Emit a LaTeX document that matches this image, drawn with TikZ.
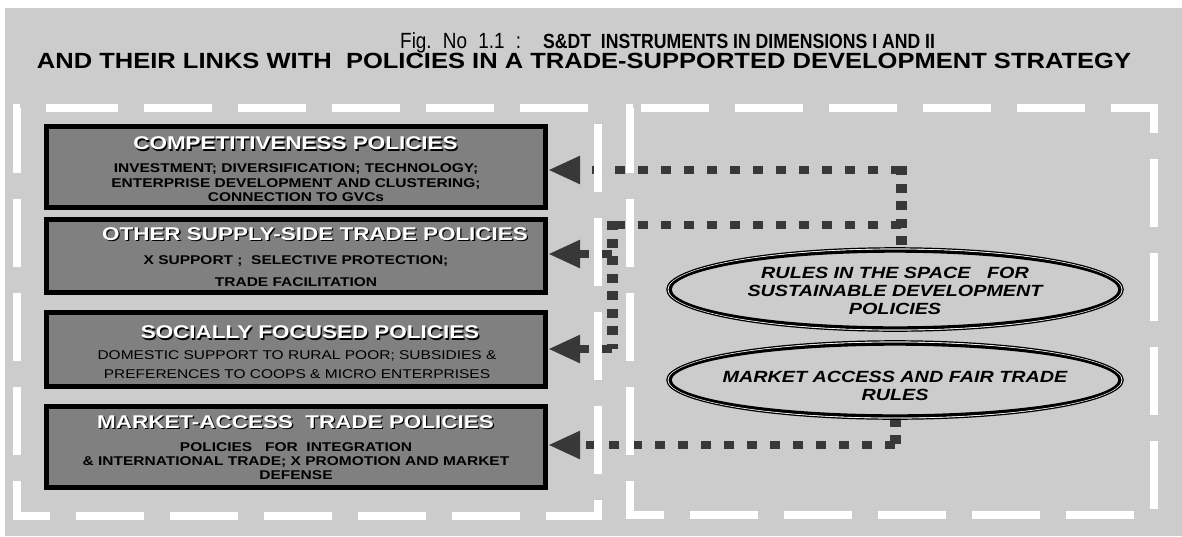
\documentclass[tikz,border=0pt]{standalone}
\usepackage{fontspec}
\setmainfont{Liberation Sans}
\newfontfamily\wf[FakeStretch=1.22]{Liberation Sans}
\newfontfamily\tlf[FakeStretch=1.16]{Liberation Sans}
\newfontfamily\nf[FakeStretch=0.86]{Liberation Sans}
\usetikzlibrary{arrows.meta,shapes.geometric}
\definecolor{bg}{HTML}{CCCCCC}
\definecolor{boxgray}{HTML}{808080}
\definecolor{conn}{HTML}{383838}
\newcommand\shad[1]{\leavevmode\rlap{\kern1.3pt\raisebox{-1.3pt}{\color{black}#1}}{\color{white}#1}}
\pgfdeclarelayer{back}
\pgfdeclarelayer{connl}
\pgfdeclarelayer{wl}
\pgfsetlayers{back,connl,wl,main}
\tikzset{
  wdash/.style={draw=white, line width=8pt, dash pattern=on 68pt off 26pt},
  polbox/.style={rectangle, draw=black, line width=5pt, fill=boxgray, minimum width=499pt, inner sep=0pt},
  boxtitle/.style={inner sep=0pt, font=\wf\bfseries\fontsize{18.4pt}{22pt}\selectfont, text height=13.2pt, text depth=0pt},
  boxsub/.style={inner sep=0pt, align=center, font=\wf\bfseries\fontsize{12.7pt}{#1}\selectfont},
  boxsubr/.style={inner sep=0pt, align=center, font=\wf\fontsize{12.7pt}{#1}\selectfont},
  ellbox/.style={ellipse, draw=black, line width=3.4pt, fill=bg, minimum width=450pt, inner sep=0pt},
  elltext/.style={inner sep=0pt, align=center, font=\wf\bfseries\itshape\fontsize{16.2pt}{18pt}\selectfont},
  ringw/.style={draw=white, line width=0.9pt},
  ringb/.style={draw=black, line width=1.2pt},
  hline/.style={draw=conn, line width=8pt, dash pattern=on 10pt off 13pt},
  hconn/.style={hline, -{Triangle[length=32pt,width=26pt]}},
  vconn/.style={draw=conn, line width=11pt, dash pattern=on 9pt off 8.5pt}
}
\begin{document}
\begin{tikzpicture}[x=1pt,y=-1pt]
\useasboundingbox (0,0) rectangle (1182,536);
\begin{pgfonlayer}{back}
\fill[white] (0,0) rectangle (1182,536);
\fill[bg] (5,8) rectangle (1182,536);
\end{pgfonlayer}

% title
\node[inner sep=0pt, anchor=base west] (t1) at (400,48)
  {{\nf\fontsize{22pt}{24pt}\selectfont\makebox[121pt][s]{Fig.\ No\ 1.1\ :}}\hspace{22pt}{\nf\bfseries\fontsize{20.5pt}{24pt}\selectfont S\&DT\ \ INSTRUMENTS IN DIMENSIONS I AND II}};
\node[inner sep=0pt, anchor=base, font=\tlf\bfseries\fontsize{22pt}{26pt}\selectfont] (t2) at (584,68)
  {AND THEIR LINKS WITH\ \ POLICIES IN A TRADE-SUPPORTED DEVELOPMENT STRATEGY};

% policy boxes
\node[polbox, minimum height=81pt] (b1) at (296,167) {};
\node[boxtitle] (b1t) at (295.5,143.3) {\shad{COMPETITIVENESS POLICIES}};
\node[boxsub=14.5pt] (b1s) at (296,182.8) {INVESTMENT; DIVERSIFICATION; TECHNOLOGY;\\ENTERPRISE DEVELOPMENT AND CLUSTERING;\\CONNECTION TO GVCs};

\node[polbox, minimum height=73pt] (b2) at (296,256) {};
\node[boxtitle] (b2t) at (315,234) {\shad{OTHER SUPPLY-SIDE TRADE POLICIES}};
\node[boxsub=22pt] (b2s) at (296,271) {X SUPPORT ;\ \ SELECTIVE PROTECTION;\\TRADE FACILITATION};

\node[polbox, minimum height=74pt] (b3) at (296,349.5) {};
\node[boxtitle] (b3t) at (310,332.3) {\shad{SOCIALLY FOCUSED POLICIES}};
\node[boxsubr=19pt] (b3s) at (297,364.5) {DOMESTIC SUPPORT TO RURAL POOR; SUBSIDIES \&\\PREFERENCES TO COOPS \& MICRO ENTERPRISES};

\node[polbox, minimum height=81pt] (b4) at (296,447) {};
\node[boxtitle] (b4t) at (295.5,421.7) {\shad{MARKET-ACCESS\ \ TRADE POLICIES}};
\node[boxsub=14.2pt] (b4s) at (296,461) {POLICIES\ \ \ FOR\ \ INTEGRATION\\\& INTERNATIONAL TRADE; X PROMOTION AND MARKET\\DEFENSE};

% rule ellipses
\node[ellbox, minimum height=77pt] (e1) at (895,289.5) {};
\draw[ringw] (e1.center) ellipse [x radius=227.15, y radius=40.65];
\draw[ringb] (e1.center) ellipse [x radius=228.2, y radius=41.7];
\node[elltext] (e1t) at (895,290.6) {RULES IN THE SPACE\ \ \ FOR\\SUSTAINABLE DEVELOPMENT\\POLICIES};

\node[ellbox, minimum height=72pt] (e2) at (895,380) {};
\draw[ringw] (e2.center) ellipse [x radius=227.15, y radius=38.15];
\draw[ringb] (e2.center) ellipse [x radius=228.2, y radius=39.2];
\node[elltext] (e2t) at (895,386) {MARKET ACCESS AND FAIR TRADE\\RULES};

% connectors
\coordinate (c1) at (901,170);
\coordinate (j1) at (901,225);
\coordinate (j2) at (612,225);
\coordinate (j3) at (612,254);
\coordinate (j4) at (612,349);
\coordinate (c4) at (895,445);
\begin{pgfonlayer}{connl}
\draw[vconn, shorten <=-4pt] (c1) -- (c1 |- e1.north);
\draw[hconn] (c1) -- (c1 -| b1.east);
\draw[hline] (j1) -- (j2);
\draw[vconn, shorten <=-4pt] (j2) -- (j4);
\draw[hconn] (j3) -- (j3 -| b2.east);
\draw[hconn] (j4) -- (j4 -| b3.east);
\draw[vconn] (e2.south) -- (c4);
\draw[hconn] (c4) -- (c4 -| b4.east);
\end{pgfonlayer}

% white dashed frames
\begin{pgfonlayer}{wl}
\draw[wdash] (50,108) -- (598,108) -- (598,516) -- (17,516) -- (17,108) -- cycle;
\draw[wdash] (641,108) -- (1154,108) -- (1154,515) -- (630,515) -- (630,108) -- cycle;
\end{pgfonlayer}
\end{tikzpicture}
\end{document}
